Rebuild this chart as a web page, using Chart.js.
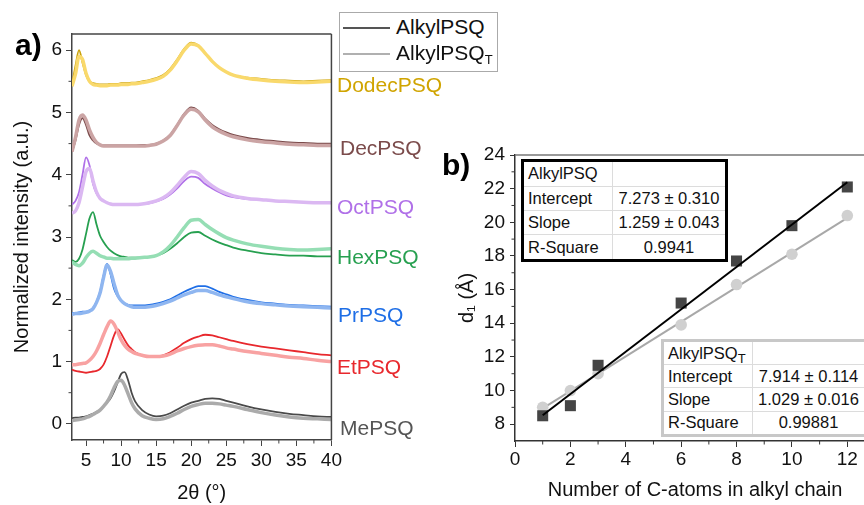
<!DOCTYPE html>
<html><head><meta charset="utf-8">
<script src="https://cdn.jsdelivr.net/npm/chart.js@4/dist/chart.umd.min.js"></script>
<style>
html,body{margin:0;padding:0;width:864px;height:505px;overflow:hidden;background:#fff;font-family:"Liberation Sans",Arial,sans-serif;}
#cA{position:absolute;left:0;top:0;}
#cB{position:absolute;left:430px;top:0;}
.lbl{position:absolute;font-size:21px;line-height:24px;white-space:nowrap;}
.panel{position:absolute;font-weight:bold;font-size:30px;line-height:30px;color:#000;}
#legend{position:absolute;left:339px;top:12px;width:157px;height:58px;border:1px solid #aaa;background:#fff;}
#legend .row{position:absolute;left:0;height:24px;font-size:21px;line-height:24px;white-space:nowrap;}
#legend .ln{position:absolute;left:3px;width:47px;top:12px;height:0;}
#legend .tx{position:absolute;left:56px;top:0;color:#111;}
sub{font-size:13px;vertical-align:-4px;line-height:0;}
table{position:absolute;border-collapse:collapse;background:#fff;font-size:16.5px;color:#111;table-layout:fixed;}
td{border:1px solid #dcdcdc;padding:0 4px;white-space:nowrap;}
td.v{text-align:center;}
#t1{left:521px;top:159px;width:207px;height:103px;border:3px solid #000;}
#t1 td:first-child{width:80px;}
#t2{left:661px;top:339px;width:206px;height:98px;border:3px solid #c8c8c8;}
#t2 td:first-child{width:80px;}
</style>
</head><body>
<canvas id="cA" width="345" height="505"></canvas>
<canvas id="cB" width="460" height="505"></canvas>

<div class="panel" style="left:15px;top:30px;">a)</div>
<div class="panel" style="left:442px;top:150px;">b)</div>

<div id="legend">
  <div class="row" style="top:2px;width:155px;"><div class="ln" style="border-top:2px solid #555;"></div><div class="tx">AlkylPSQ</div></div>
  <div class="row" style="top:28px;width:155px;"><div class="ln" style="border-top:2px solid #b0b0b0;"></div><div class="tx">AlkylPSQ<sub>T</sub></div></div>
</div>

<div class="lbl" style="left:337px;top:73px;color:#d0a400;">DodecPSQ</div>
<div class="lbl" style="left:340px;top:136px;color:#7b4b4b;">DecPSQ</div>
<div class="lbl" style="left:337px;top:195px;color:#b070e8;">OctPSQ</div>
<div class="lbl" style="left:337px;top:245px;color:#27a050;">HexPSQ</div>
<div class="lbl" style="left:338px;top:303px;color:#1e6ee6;">PrPSQ</div>
<div class="lbl" style="left:337px;top:355px;color:#e8282d;">EtPSQ</div>
<div class="lbl" style="left:340px;top:416px;color:#555;">MePSQ</div>

<table id="t1">
<tr><td>AlkylPSQ</td><td class="v"></td></tr>
<tr><td>Intercept</td><td class="v">7.273 ± 0.310</td></tr>
<tr><td>Slope</td><td class="v">1.259 ± 0.043</td></tr>
<tr><td>R-Square</td><td class="v">0.9941</td></tr>
</table>
<table id="t2">
<tr><td>AlkylPSQ<sub>T</sub></td><td class="v"></td></tr>
<tr><td>Intercept</td><td class="v">7.914 ± 0.114</td></tr>
<tr><td>Slope</td><td class="v">1.029 ± 0.016</td></tr>
<tr><td>R-Square</td><td class="v">0.99881</td></tr>
</table>

<script>
// ---------- Panel a data (2θ grid and normalized intensities, offset) ----------
const twoTheta = [3,3.5,4,4.5,5,5.5,6,6.5,7,7.5,8,8.5,9,9.5,10,10.5,11,11.5,12,13,14,15,16,17,18,19,20,21,22,23,24,25,26,28,30,32,34,36,38,40];
const dodec  = [5.44,5.75,6.0,5.8,5.6,5.5,5.47,5.46,5.45,5.45,5.45,5.46,5.46,5.46,5.47,5.47,5.47,5.48,5.48,5.5,5.52,5.55,5.6,5.7,5.85,6.02,6.12,6.08,5.95,5.82,5.72,5.65,5.6,5.56,5.54,5.52,5.51,5.5,5.51,5.52];
const dodecT = [5.42,5.62,5.9,5.85,5.63,5.5,5.45,5.44,5.43,5.43,5.43,5.44,5.44,5.44,5.45,5.45,5.45,5.46,5.46,5.48,5.5,5.53,5.58,5.68,5.83,6.0,6.1,6.07,5.95,5.82,5.72,5.65,5.6,5.55,5.52,5.5,5.49,5.48,5.49,5.5];
const dec    = [4.37,4.55,4.8,4.91,4.8,4.63,4.55,4.5,4.48,4.47,4.47,4.47,4.47,4.47,4.47,4.47,4.47,4.47,4.47,4.48,4.48,4.5,4.55,4.64,4.8,4.98,5.08,5.03,4.9,4.8,4.73,4.68,4.64,4.59,4.56,4.54,4.52,4.51,4.5,4.5];
const decT   = [4.37,4.6,4.88,4.96,4.88,4.72,4.6,4.52,4.48,4.46,4.46,4.46,4.46,4.46,4.46,4.46,4.46,4.46,4.46,4.46,4.47,4.49,4.54,4.63,4.79,4.96,5.05,5.01,4.88,4.77,4.7,4.65,4.61,4.56,4.53,4.51,4.49,4.48,4.47,4.47];
const oct    = [3.52,3.58,3.72,4.0,4.28,4.15,3.85,3.7,3.62,3.58,3.55,3.53,3.52,3.52,3.52,3.52,3.52,3.52,3.52,3.53,3.54,3.57,3.61,3.68,3.78,3.9,3.97,3.95,3.85,3.78,3.72,3.67,3.64,3.61,3.6,3.58,3.57,3.56,3.55,3.55];
const octT   = [3.38,3.42,3.55,3.8,4.05,4.1,3.9,3.72,3.62,3.58,3.55,3.53,3.52,3.52,3.52,3.52,3.52,3.52,3.52,3.53,3.55,3.58,3.63,3.71,3.83,3.96,4.05,4.02,3.91,3.82,3.75,3.7,3.66,3.62,3.6,3.58,3.57,3.56,3.55,3.55];
const hex    = [2.63,2.6,2.65,2.8,3.05,3.3,3.4,3.2,3.02,2.92,2.84,2.78,2.74,2.71,2.69,2.68,2.67,2.67,2.67,2.67,2.68,2.7,2.74,2.81,2.9,3.0,3.07,3.08,3.02,2.96,2.91,2.87,2.83,2.78,2.74,2.72,2.7,2.7,2.69,2.69];
const hexT   = [2.6,2.56,2.54,2.58,2.67,2.74,2.77,2.74,2.7,2.68,2.66,2.66,2.65,2.65,2.65,2.65,2.65,2.66,2.66,2.67,2.68,2.7,2.76,2.86,3.0,3.15,3.27,3.28,3.2,3.12,3.05,2.99,2.95,2.89,2.85,2.82,2.8,2.79,2.8,2.81];
const pr     = [1.78,1.78,1.79,1.8,1.8,1.82,1.86,1.96,2.12,2.38,2.57,2.4,2.17,2.05,1.97,1.93,1.91,1.9,1.9,1.9,1.91,1.93,1.96,2.0,2.06,2.12,2.17,2.21,2.21,2.17,2.12,2.08,2.04,1.99,1.95,1.93,1.91,1.9,1.89,1.88];
const prT    = [1.76,1.77,1.77,1.78,1.79,1.81,1.85,1.95,2.1,2.35,2.55,2.45,2.25,2.07,1.98,1.93,1.9,1.88,1.87,1.87,1.88,1.9,1.93,1.97,2.02,2.07,2.11,2.14,2.14,2.11,2.07,2.04,2.01,1.96,1.93,1.91,1.89,1.88,1.87,1.86];
const et     = [0.87,0.85,0.84,0.83,0.82,0.83,0.84,0.85,0.88,0.95,1.08,1.25,1.42,1.52,1.45,1.35,1.26,1.2,1.15,1.1,1.08,1.08,1.1,1.15,1.22,1.3,1.36,1.4,1.43,1.42,1.39,1.36,1.33,1.28,1.24,1.21,1.18,1.15,1.12,1.1];
const etT    = [0.95,0.95,0.96,0.97,0.98,1.02,1.08,1.17,1.29,1.43,1.56,1.65,1.6,1.48,1.35,1.26,1.2,1.16,1.13,1.1,1.08,1.08,1.09,1.12,1.17,1.21,1.24,1.26,1.27,1.27,1.25,1.22,1.2,1.16,1.13,1.1,1.07,1.05,1.02,1.0];
const me     = [0.09,0.1,0.1,0.11,0.12,0.14,0.16,0.19,0.22,0.28,0.34,0.41,0.52,0.66,0.8,0.83,0.7,0.5,0.36,0.22,0.15,0.12,0.13,0.17,0.23,0.29,0.34,0.37,0.4,0.41,0.4,0.37,0.34,0.28,0.23,0.19,0.16,0.14,0.12,0.11];
const meT    = [0.05,0.06,0.07,0.08,0.1,0.12,0.15,0.18,0.22,0.28,0.35,0.45,0.58,0.68,0.7,0.62,0.48,0.34,0.24,0.13,0.09,0.07,0.08,0.12,0.17,0.23,0.28,0.31,0.33,0.33,0.32,0.3,0.28,0.23,0.18,0.14,0.11,0.09,0.08,0.07];
const xTicksA = [5,10,15,20,25,30,35,40];
const yTicksA = [0,1,2,3,4,5,6];
const xMinorA = [7.5,12.5,17.5,22.5,27.5,32.5,37.5];
const yMinorA = [0.5,1.5,2.5,3.5,4.5,5.5];

// ---------- Panel b data ----------
const carbons   = [1,2,3,6,8,10,12];
const dAlkyl    = [8.5,9.1,11.5,15.2,17.7,19.8,22.1];
const dAlkylT   = [9.0,10.0,11.0,13.9,16.3,18.1,20.4];
const fitX      = [1,12];
const fitAlkyl  = [8.53,22.38];
const fitAlkylT = [8.94,20.26];
const xTicksB = [0,2,4,6,8,10,12];
const yTicksB = [8,10,12,14,16,18,20,22,24];
const xMinorB = [1,3,5,7,9,11,13];
const yMinorB = [9,11,13,15,17,19,21,23];

Chart.defaults.font.family = '"Liberation Sans", Arial, sans-serif';
Chart.defaults.color = '#111';

const framePlugin = {
  id: 'frame',
  afterDraw(chart, args, o) {
    const {ctx, chartArea: a, scales} = chart;
    ctx.save();
    const line = (x1,y1,x2,y2) => { ctx.beginPath(); ctx.moveTo(x1,y1); ctx.lineTo(x2,y2); ctx.stroke(); };
    ctx.strokeStyle = o.frameColor; ctx.lineWidth = o.frameWidth;
    if (o.top) line(a.left, a.top, a.right, a.top);
    if (o.right) line(a.right, a.top, a.right, a.bottom);
    ctx.strokeStyle = o.tickColor; ctx.lineWidth = 1;
    (o.xMinor||[]).forEach(v => { const p = scales.x.getPixelForValue(v); line(p, a.bottom, p, a.bottom + 3.5); });
    (o.yMinor||[]).forEach(v => { const p = scales.y.getPixelForValue(v); line(a.left - 3.5, p, a.left, p); });
    ctx.restore();
  }
};

const pts = (xs, ys) => xs.map((x,i) => ({x, y: ys[i]}));

const seriesA = [
  [dodecT,'#f9d96c',3.5],[dodec,'#c9a10a',1.8],
  [decT,'#cba4a4',3.5],[dec,'#7b4b4b',1.8],
  [octT,'#dbb8f2',3.5],[oct,'#b070e8',1.8],
  [hexT,'#95deb4',3.5],[hex,'#27a050',1.8],
  [prT,'#8fb6f0',3.5],[pr,'#1e6ee6',1.8],
  [etT,'#f8a2a2',3.5],[et,'#e8282d',1.8],
  [meT,'#ababab',3.5],[me,'#4a4a4a',1.8]
];

new Chart(document.getElementById('cA'), {
  type: 'line',
  data: { datasets: seriesA.map(([ys,c,w]) => ({
    data: pts(twoTheta, ys), borderColor: c, borderWidth: w, pointRadius: 0,
    cubicInterpolationMode: 'monotone', fill: false
  })) },
  options: {
    responsive: false, animation: false, events: [],
    layout: { padding: { top: 34, right: 12, left: 0, bottom: 0 } },
    plugins: { legend: { display: false }, tooltip: { enabled: false },
      frame: { top: true, right: true, frameColor: '#444', frameWidth: 1.5, tickColor: '#444', xMinor: xMinorA, yMinor: yMinorA } },
    scales: {
      x: { type: 'linear', min: 3, max: 40,
        afterBuildTicks: s => { s.ticks = xTicksA.map(v => ({value: v})); },
        afterFit: s => { s.height = 65; },
        grid: { drawOnChartArea: false, tickLength: 6, color: '#444', tickColor: '#444' },
        border: { color: '#444', width: 1.5 },
        ticks: { font: { size: 19 }, padding: 3, color: '#111', maxRotation: 0 },
        title: { display: true, text: '2θ (°)', font: { size: 20 }, padding: { top: 0, bottom: 0 }, color: '#111' } },
      y: { min: -0.26, max: 6.26,
        afterBuildTicks: s => { s.ticks = yTicksA.map(v => ({value: v})); },
        afterFit: s => { s.width = 72; },
        grid: { drawOnChartArea: false, tickLength: 6, color: '#444', tickColor: '#444' },
        border: { color: '#444', width: 1.5 },
        ticks: { font: { size: 19 }, padding: 4, color: '#111' },
        title: { display: true, text: 'Normalized intensity (a.u.)', font: { size: 20 }, padding: { top: 10, bottom: 0 }, color: '#111' } }
    }
  },
  plugins: [framePlugin]
});

new Chart(document.getElementById('cB'), {
  type: 'line',
  data: { datasets: [
    { data: pts(carbons, dAlkyl), showLine: false, pointStyle: 'rect', pointRadius: 7.8, backgroundColor: '#454545', borderColor: '#454545', borderWidth: 0, order: 1 },
    { data: pts(carbons, dAlkylT), showLine: false, pointStyle: 'circle', pointRadius: 5.8, backgroundColor: '#d0d0d0', borderColor: '#d0d0d0', borderWidth: 0, order: 2 },
    { data: pts(fitX, fitAlkyl), borderColor: '#000', borderWidth: 2, pointRadius: 0, order: 0 },
    { data: pts(fitX, fitAlkylT), borderColor: '#a8a8a8', borderWidth: 2, pointRadius: 0, order: 3 }
  ] },
  options: {
    responsive: false, animation: false, events: [],
    layout: { padding: { top: 155, right: 15, left: 0, bottom: 0 } },
    plugins: { legend: { display: false }, tooltip: { enabled: false },
      frame: { top: true, right: false, frameColor: '#777', frameWidth: 1.5, tickColor: '#333', xMinor: xMinorB, yMinor: yMinorB } },
    scales: {
      x: { type: 'linear', min: 0, max: 13,
        afterBuildTicks: s => { s.ticks = xTicksB.map(v => ({value: v})); },
        afterFit: s => { s.height = 64; },
        grid: { drawOnChartArea: false, tickLength: 6, color: '#333', tickColor: '#333' },
        border: { color: '#333', width: 1.5 },
        ticks: { font: { size: 19 }, padding: 1, color: '#111', maxRotation: 0 },
        title: { display: true, text: 'Number of C-atoms in alkyl chain', font: { size: 20 }, padding: { top: 0, bottom: 3 }, color: '#111' } },
      y: { type: 'linear', min: 7, max: 24,
        afterBuildTicks: s => { s.ticks = yTicksB.map(v => ({value: v})); },
        afterFit: s => { s.width = 85; },
        grid: { drawOnChartArea: false, tickLength: 5, color: '#333', tickColor: '#333' },
        border: { color: '#333', width: 1.5 },
        ticks: { font: { size: 19 }, padding: 5, color: '#111' },
        title: { display: true, text: 'd₁ (Å)', font: { size: 20 }, padding: { top: 25, bottom: 0 }, color: '#111' } }
    }
  },
  plugins: [framePlugin]
});
</script>
</body></html>
